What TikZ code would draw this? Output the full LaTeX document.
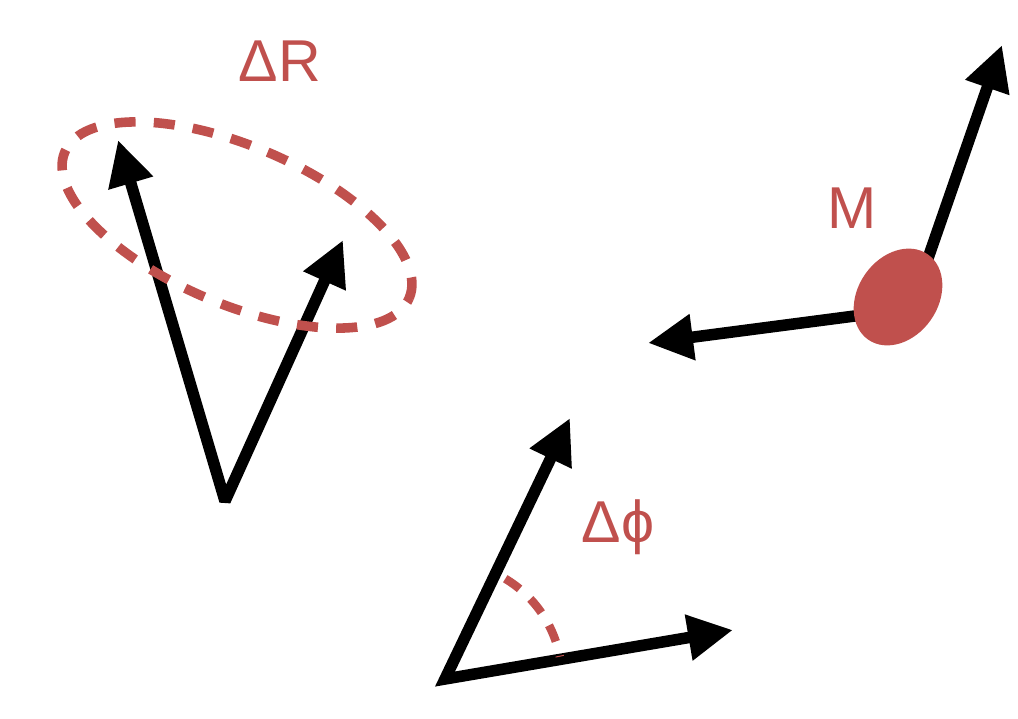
\documentclass[tikz,border=0pt]{standalone}
\usepackage{fontspec}
\setmainfont{Liberation Sans}
\usetikzlibrary{arrows.meta, shapes.geometric}
\definecolor{markred}{HTML}{C0504D}

\begin{document}
\begin{tikzpicture}[
    x=0.025cm, y=-0.025cm,
    >={Triangle[length=32pt, width=31pt]},
    vec/.style={line width=8.2pt, line join=miter, miter limit=2.5},
    dashring/.style={draw=markred, line width=6.8pt, dash pattern=on 15pt off 13pt},
    lbl/.style={text=markred, font=\fontsize{42}{50}\selectfont, inner sep=0pt, anchor=base}
]

\useasboundingbox (0,0) rectangle (1018,718);

% -------------------------
% Left: spread of directions
% -------------------------
\coordinate (rootR) at (225,501);
\coordinate (tipA) at (118,140);
\coordinate (tipB) at (343,240);
\draw[vec, <->] (tipA) -- (rootR) -- (tipB);

\node[dashring, ellipse, minimum width=9.35cm, minimum height=3.95cm,
      inner sep=0pt, rotate=-23] (spread) at (237,225) {};

\node[lbl] (dR) at (280,81) {ΔR};

% -------------------------
% Right: mass with two legs
% -------------------------
\coordinate (legUp) at (926,264);
\coordinate (tipUp) at (1002,45);
\coordinate (legLeft) at (870,314);
\coordinate (tipLeft) at (648,343);
\draw[vec, ->] (legUp) -- (tipUp);
\draw[vec, ->] (legLeft) -- (tipLeft);

\node[ellipse, fill=markred, minimum width=2.6cm, minimum height=2cm,
      inner sep=0pt, rotate=55] (mass) at (898,297) {};

\node[lbl] (mLabel) at (852,228) {M};

% -------------------------
% Bottom: opening angle
% -------------------------
\coordinate (rootPhi) at (445,679);
\coordinate (tipC) at (570,418);
\coordinate (tipD) at (733,630);
\draw[vec, <->] (tipC) -- (rootPhi) -- (tipD);

\draw[dashring, line width=6pt, dash pattern=on 12.5pt off 10.5pt]
    (rootPhi) ++(-59:117) arc[start angle=-59, end angle=-11, radius=117];

\node[lbl] (dPhi) at (618,542) {Δϕ};

\end{tikzpicture}
\end{document}
